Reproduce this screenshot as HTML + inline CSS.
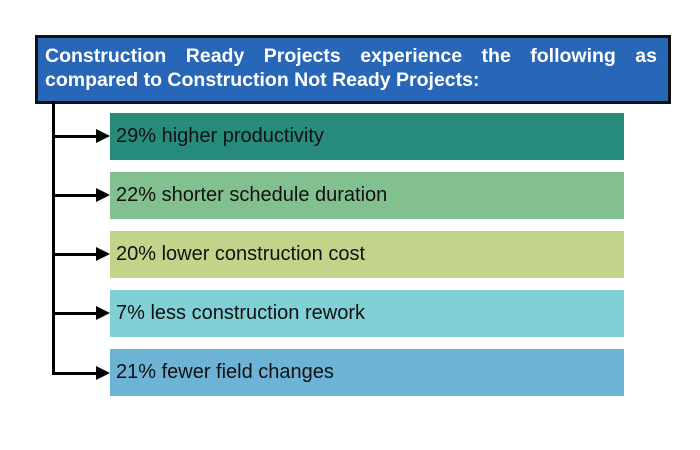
<!DOCTYPE html>
<html><head><meta charset="utf-8"><style>
body{margin:0;width:700px;height:450px;background:#fff;position:relative;overflow:hidden;font-family:"Liberation Sans",Arial,sans-serif}
.hdr{position:absolute;left:35px;top:35px;width:623px;height:63px;background:#2866b8;border:3px solid #111;color:#fff;font-weight:bold;font-size:19.5px;line-height:24px;padding:0 0 0 7px;box-sizing:content-box}
.hdr span{display:block;text-align:justify;text-align-last:justify;width:612px}
.hdr span.l2{text-align-last:left}
.vline{position:absolute;left:52px;top:101px;width:3px;height:274px;background:#000}
.box{position:absolute;left:110px;width:514px;height:47px;font-size:20px;color:#111;line-height:47px;padding-left:6px;box-sizing:border-box}
.arr{position:absolute;left:52px;height:3px;width:46px;background:#000}
.arr:after{content:"";position:absolute;right:-12px;top:-6px;border-left:14px solid #000;border-top:7.5px solid transparent;border-bottom:7.5px solid transparent}
</style></head><body>
<div class="hdr"><span style="margin-top:6px">Construction Ready Projects experience the following as</span><span class="l2">compared to Construction Not Ready Projects:</span></div>
<div class="vline"></div>
<div class="arr" style="top:135px"></div>
<div class="arr" style="top:194px"></div>
<div class="arr" style="top:253px"></div>
<div class="arr" style="top:312px"></div>
<div class="arr" style="top:372px"></div>
<div class="box" style="top:113px;background:#278b7c">29% higher productivity</div>
<div class="box" style="top:172px;background:#82c08f">22% shorter schedule duration</div>
<div class="box" style="top:231px;background:#c1d48a">20% lower construction cost</div>
<div class="box" style="top:290px;background:#80d0d6">7% less construction rework</div>
<div class="box" style="top:349px;background:#6db3d6">21% fewer field changes</div>
</body></html>
